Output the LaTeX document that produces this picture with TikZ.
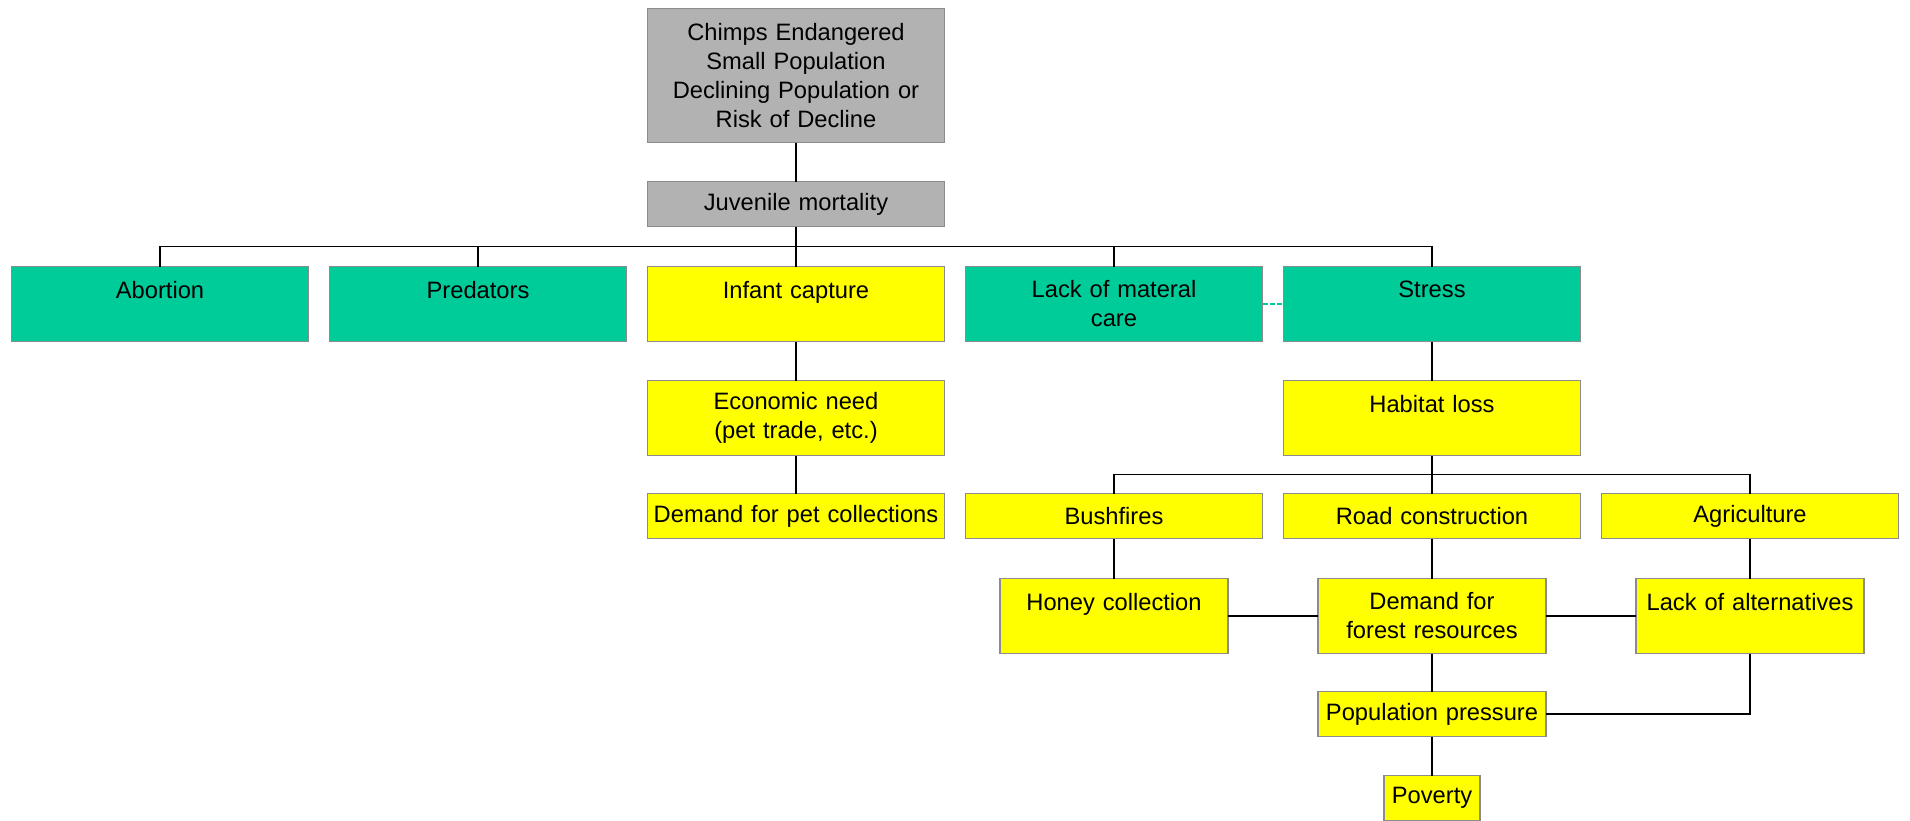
\documentclass[tikz,border=0pt]{standalone}
\usepackage{fontspec}
\setmainfont{Liberation Sans}
\usetikzlibrary{positioning, calc}
\definecolor{chgray}{RGB}{178,178,178}
\definecolor{chteal}{RGB}{0,204,153}
\definecolor{chyellow}{RGB}{255,255,0}
\definecolor{chborder}{RGB}{140,140,140}
\tikzset{
  box/.style={draw=chborder, line width=0.8pt, align=center, outer sep=0pt, inner sep=2pt,
    text width=144pt, minimum width=148.5pt, font=\fontsize{11.85}{14.5}\selectfont},
  tall/.style={box, minimum height=37.5pt},
  short/.style={box, minimum height=22.5pt},
  narrow/.style={text width=110pt, minimum width=113.5pt},
  link/.style={line width=0.7pt},
}

\begin{document}
\begin{tikzpicture}
\useasboundingbox (0,0) rectangle (955pt,-410pt);
\node[box, fill=chgray, minimum height=67pt] (top) at (398pt,-37.75pt) {Chimps Endangered\\Small Population\\Declining Population or\\Risk of Decline};
\node[short, fill=chgray, below=19.5pt of top] (juv) {Juvenile mortality};
\node[tall, fill=chyellow, below=20pt of juv] (inf) {Infant capture\\\mbox{}};
\foreach \p/\n/\t in {inf/pred/Predators, pred/abort/Abortion} {
  \node[tall, fill=chteal, left=10.5pt of \p] (\n) {\t\\\mbox{}};
}
\node[tall, fill=chteal, right=10.5pt of inf] (lackmc) {Lack of materal\\care};
\node[tall, fill=chteal, right=10.5pt of lackmc] (stress) {Stress\\\mbox{}};
\node[tall, fill=chyellow, below=19.5pt of inf] (econ) {Economic need\\(pet trade, etc.)};
\node[short, fill=chyellow, below=19pt of econ] (petdem) {Demand for pet collections};
\node[tall, fill=chyellow, below=19.5pt of stress] (hab) {Habitat loss\\\mbox{}};
\node[short, fill=chyellow, below=19pt of hab] (road) {Road construction};
\node[short, fill=chyellow, left=10.5pt of road] (bush) {Bushfires};
\node[short, fill=chyellow, right=10.5pt of road] (agri) {Agriculture};
\node[tall, narrow, fill=chyellow, below=20pt of bush] (honey) {Honey collection\\\mbox{}};
\node[tall, narrow, fill=chyellow, below=20pt of road] (forest) {Demand for\\forest resources};
\node[tall, narrow, fill=chyellow, below=20pt of agri] (lackalt) {Lack of alternatives\\\mbox{}};
\node[short, narrow, fill=chyellow, below=19pt of forest] (poppr) {Population pressure};
\node[short, fill=chyellow, text width=44pt, minimum width=48pt, below=19.5pt of poppr] (pov) {Poverty};
% first level
\coordinate (bus1) at ($(juv.south)!0.5!(inf.north)$);
\draw[link] (top) -- (juv);
\draw[link] (juv) -- (inf);
\draw[link] (abort.north) |- (bus1) -| (stress.north);
\foreach \n in {pred, lackmc} \draw[link] (\n.north) -- (\n.north |- bus1);
\draw[chteal, line width=1pt, dash pattern=on 2.5pt off 1pt] (lackmc) -- (stress);
% infant capture branch
\draw[link] (inf) -- (econ);
\draw[link] (econ) -- (petdem);
% stress branch
\coordinate (bus2) at ($(hab.south)!0.5!(road.north)$);
\draw[link] (stress) -- (hab);
\draw[link] (hab) -- (road);
\draw[link] (bush.north) |- (bus2) -| (agri.north);
\draw[link] (bush) -- (honey);
\draw[link] (road) -- (forest);
\draw[link] (agri) -- (lackalt);
\draw[link] (honey) -- (forest);
\draw[link] (forest) -- (lackalt);
\draw[link] (forest) -- (poppr);
\draw[link] (poppr) -- (pov);
\draw[line width=1.2pt] (lackalt.south) |- (poppr.east);
\end{tikzpicture}
\end{document}
